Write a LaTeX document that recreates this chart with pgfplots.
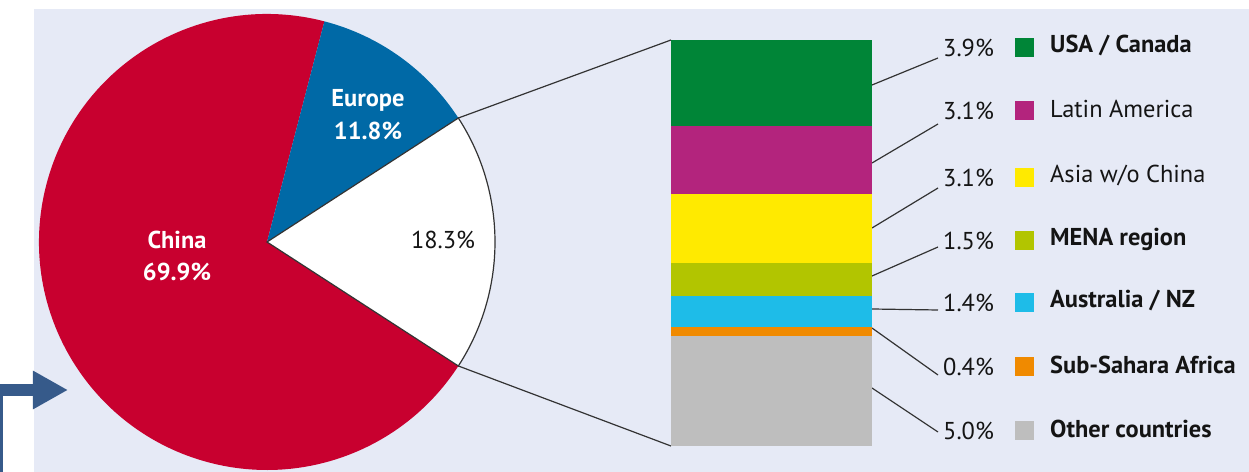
\documentclass[border=0pt]{standalone}
\usepackage{pgfplots}
\pgfplotsset{compat=1.18}
\usepackage{fontspec}
\setmainfont{PT Sans}
\usetikzlibrary{arrows.meta}
\definecolor{bg}{HTML}{E6EAF6}
\definecolor{cnred}{HTML}{C8002F}
\definecolor{eublue}{HTML}{0069A6}
\definecolor{usgreen}{HTML}{008537}
\definecolor{lamag}{HTML}{B3247D}
\definecolor{asyel}{HTML}{FFEA00}
\definecolor{menaol}{HTML}{B2C500}
\definecolor{aucyan}{HTML}{1EBCE8}
\definecolor{afor}{HTML}{F08A00}
\definecolor{othgray}{HTML}{BEBEBE}
\definecolor{arrowblue}{HTML}{365A8A}
\definecolor{txt}{HTML}{141414}
% pie shares (percent)
\def\pChina{69.9}
\def\pEurope{11.8}
\def\pRest{18.3}
\pgfmathsetmacro{\aRest}{\pRest*3.6/2}
\pgfmathsetmacro{\aEu}{\aRest+\pEurope*3.6}
\pgfmathsetmacro{\aCnEnd}{360-\aRest}
\newcommand{\lbl}{\fontsize{24.5}{28}\selectfont}
\newcommand{\legrow}[5]{%
  \node[txt,font=\lbl,anchor=west,inner sep=0pt] at (axis cs:943,#1) {#2\%};
  \fill[#3] (axis cs:1015,#1-9.5) rectangle (axis cs:1034,#1+9.5);
  \node[txt,font=\lbl#5,anchor=west,inner sep=0pt] at (axis cs:1050,#1+2) {#4};}
\begin{document}
\begin{tikzpicture}
\begin{axis}[at={(0,0)},anchor=south west,scale only axis,width=1249bp,height=472bp,
  xmin=0,xmax=1249,ymin=0,ymax=472,hide axis,clip=false]
\fill[white] (axis cs:0,0) rectangle (axis cs:1249,472);
\fill[bg] (axis cs:34,0) rectangle (axis cs:1249,463);
% pie
\fill[cnred] (axis cs:267,230) -- ++(\aEu:228bp) arc[start angle=\aEu,end angle=\aCnEnd,radius=228bp] -- cycle;
\fill[eublue] (axis cs:267,230) -- ++(\aRest:228bp) arc[start angle=\aRest,end angle=\aEu,radius=228bp] -- cycle;
\filldraw[fill=white,draw=black!80,line width=1.2bp] (axis cs:267,230) -- ++(-\aRest:228bp) arc[start angle=-\aRest,end angle=\aRest,radius=228bp] -- cycle;
% connectors to bar
\draw[black!80,line width=1.2bp] (axis cs:267,230) ++(\aRest:228bp) -- (axis cs:671,432);
\draw[black!80,line width=1.2bp] (axis cs:267,230) ++(-\aRest:228bp) -- (axis cs:671,26);
% pie labels
\node[white,font=\lbl\bfseries,align=center] at (axis cs:368,357) {Europe\\[5bp]11.8\%};
\node[white,font=\lbl\bfseries,align=center] at (axis cs:177,216) {China\\[5bp]69.9\%};
\node[txt,font=\lbl] at (axis cs:443,232) {18.3\%};
% leader lines
\draw[black!80,line width=1.2bp] (axis cs:872,387) -- (axis cs:938,414);
\draw[black!80,line width=1.2bp] (axis cs:872,309) -- (axis cs:938,348);
\draw[black!80,line width=1.2bp] (axis cs:872,244) -- (axis cs:938,284);
\draw[black!80,line width=1.2bp] (axis cs:872,196) -- (axis cs:938,225);
\draw[black!80,line width=1.2bp] (axis cs:872,163) -- (axis cs:938,162);
\draw[black!80,line width=1.2bp] (axis cs:872,144) -- (axis cs:938,97);
\draw[black!80,line width=1.2bp] (axis cs:872,84) -- (axis cs:938,40);
% legend rows
\legrow{424}{3.9}{usgreen}{USA / Canada}{\bfseries}
\legrow{361}{3.1}{lamag}{Latin America}{}
\legrow{294}{3.1}{asyel}{Asia w/o China}{}
\legrow{231}{1.5}{menaol}{MENA region}{\bfseries}
\legrow{169}{1.4}{aucyan}{Australia / NZ}{\bfseries}
\legrow{105}{0.4}{afor}{Sub-Sahara Africa}{\bfseries}
\legrow{41}{5.0}{othgray}{Other countries}{\bfseries}
% arrow
\draw[arrowblue,line width=12bp,-{Triangle[length=35bp,width=36bp]}] (axis cs:-3,-10) -- (axis cs:-3,82) -- (axis cs:68,82);
\end{axis}
\begin{axis}[at={(671bp,26bp)},anchor=south west,scale only axis,width=201bp,height=406bp,
  xmin=-0.5,xmax=0.5,ymin=0,ymax=18.4,hide axis,ybar stacked,bar width=201bp]
\addplot[fill=othgray,draw=none] coordinates {(0,5.0)};
\addplot[fill=afor,draw=none] coordinates {(0,0.4)};
\addplot[fill=aucyan,draw=none] coordinates {(0,1.4)};
\addplot[fill=menaol,draw=none] coordinates {(0,1.5)};
\addplot[fill=asyel,draw=none] coordinates {(0,3.1)};
\addplot[fill=lamag,draw=none] coordinates {(0,3.1)};
\addplot[fill=usgreen,draw=none] coordinates {(0,3.9)};
\end{axis}
\pgfresetboundingbox
\path[use as bounding box] (0,0) rectangle (1249bp,472bp);
\end{tikzpicture}
\end{document}
